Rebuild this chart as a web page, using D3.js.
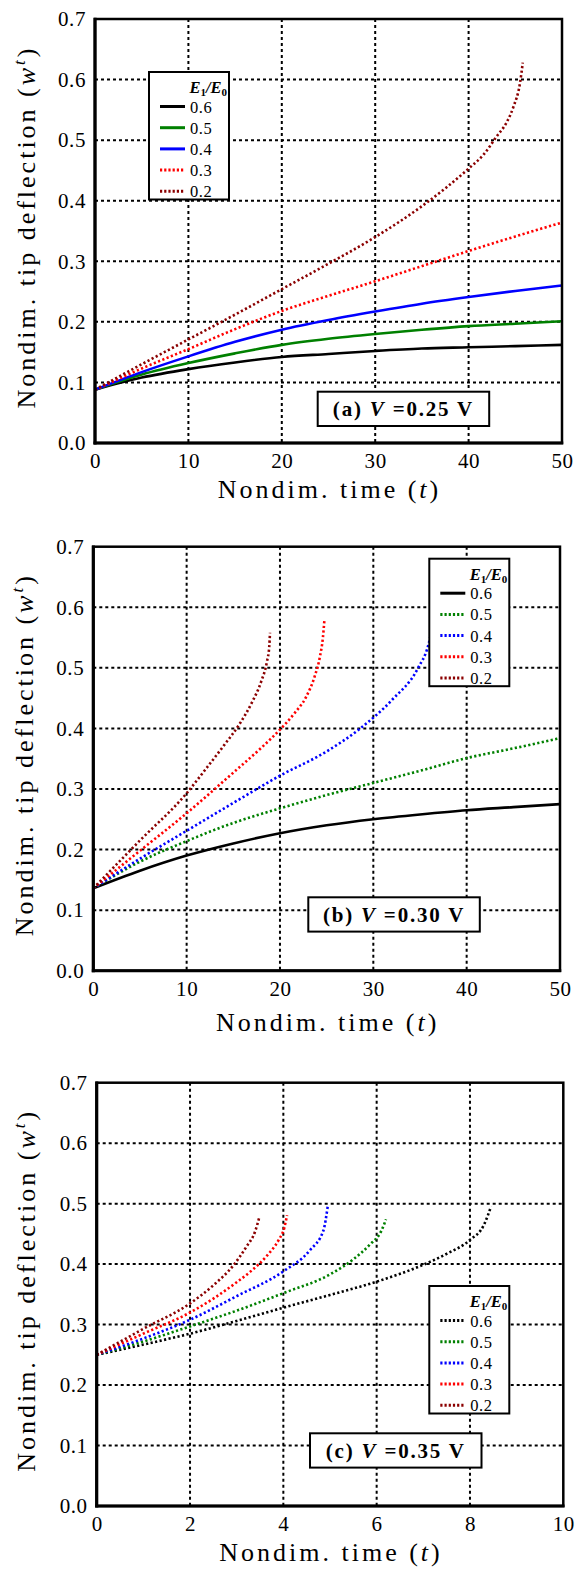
<!DOCTYPE html>
<html>
<head>
<meta charset="utf-8">
<script src="https://cdn.jsdelivr.net/npm/d3@7"></script>
<style>
body{margin:0;background:#fff;}
svg text{font-family:"Liberation Serif","Times New Roman",Tinos,"DejaVu Serif",serif;fill:#000;}
.tick text{font-size:21px;letter-spacing:0.6px;}
.gridLine{stroke:#000;stroke-width:2;stroke-dasharray:3,3;}
.frame{fill:none;stroke:#000;stroke-width:2.5;}
.axisTitle{font-size:26px;letter-spacing:3px;}
.legendText{font-size:16.5px;letter-spacing:0.5px;}
.legendTitle{font-size:16.5px;font-weight:bold;font-style:italic;}
.boxText{font-size:21px;font-weight:bold;letter-spacing:1.8px;}
</style>
</head>
<body>
<script>
(function(){

//legend categories (E1/E0)
var ratios = ["0.6", "0.5", "0.4", "0.3", "0.2"];
//tick values
var yTicks = [0, 0.1, 0.2, 0.3, 0.4, 0.5, 0.6, 0.7];
var xTicksAB = [0, 10, 20, 30, 40, 50];
var xTicksC = [0, 2, 4, 6, 8, 10];
//panel tags and speeds
var panelTags = ["(a)", "(b)", "(c)"];
var speeds = ["0.25", "0.30", "0.35"];

//panel (a) V = 0.25 V : [time, tip deflection]
var a06 = [[0,.088],[5,.108],[10,.122],[15,.133],[20,.142],[25,.147],[30,.152],[35,.156],[40,.158],[45,.160],[50,.162]];
var a05 = [[0,.088],[5,.113],[10,.132],[15,.148],[20,.162],[25,.172],[30,.180],[35,.187],[40,.193],[45,.197],[50,.201]];
var a04 = [[0,.088],[5,.117],[10,.143],[15,.167],[20,.187],[25,.203],[30,.217],[35,.230],[40,.241],[45,.251],[50,.260]];
var a03 = [[0,.088],[5,.123],[10,.155],[15,.188],[20,.218],[25,.243],[30,.267],[35,.292],[40,.317],[45,.341],[50,.364]];
var a02 = [[0,.088],[5,.130],[10,.171],[15,.212],[20,.254],[25,.296],[30,.340],[35,.391],[40,.453],[41.6,.476],[43,.506],[44.1,.530],[44.8,.555],[45.5,.594],[45.8,.628]];

//panel (b) V = 0.30 V
var b06 = [[0,.136],[5,.165],[10,.190],[15,.210],[20,.227],[25,.240],[30,.250],[35,.258],[40,.265],[45,.270],[50,.275]];
var b05 = [[0,.136],[5,.180],[10,.214],[15,.244],[20,.268],[25,.290],[30,.310],[35,.330],[40,.351],[45,.367],[50,.384]];
var b04 = [[0,.136],[5,.185],[10,.231],[15,.277],[20,.322],[25,.362],[28.6,.400],[32,.447],[34.8,.500],[35.9,.538],[36.3,.565]];
var b03 = [[0,.136],[5,.198],[10,.260],[15,.327],[18,.368],[20,.398],[21.5,.424],[22.8,.452],[23.7,.485],[24.3,.520],[24.6,.550],[24.75,.577]];
var b02 = [[0,.136],[5,.215],[10,.293],[12,.332],[14,.372],[15.7,.408],[17,.443],[18,.478],[18.6,.510],[18.85,.535],[18.93,.558]];

//panel (c) V = 0.35 V
var c06 = [[0,.25],[1,.267],[2,.285],[3,.306],[4,.328],[5,.349],[6,.371],[7,.399],[7.5,.417],[8,.440],[8.3,.465],[8.45,.495]];
var c05 = [[0,.25],[1,.272],[2,.297],[3,.323],[4,.352],[5,.383],[5.5,.408],[5.85,.432],[6.1,.455],[6.2,.474]];
var c04 = [[0,.25],[1,.277],[2,.308],[3,.347],[4,.388],[4.57,.423],[4.86,.456],[4.95,.495]];
var c03 = [[0,.25],[1,.285],[2,.320],[2.5,.343],[3,.370],[3.3,.388],[3.65,.414],[3.9,.440],[4.02,.460],[4.08,.481]];
var c02 = [[0,.25],[1,.293],[2,.335],[2.5,.365],[2.93,.398],[3.21,.429],[3.4,.455],[3.48,.476]];

//line colours, one per ratio
var lineColors = ["#000000", "#008000", "#0000ff", "#ff0000", "#8b0000"];

var panels = [
    {left:95, top:19, right:562, bottom:443, xMax:50, xTicks:xTicksAB,
     series:[a06,a05,a04,a03,a02], dotted:[false,false,false,true,true],
     legend:{x:149, y:72}, box:{x:317.7, y:391.7}, titleY:498, yTitleX:35},
    {left:93.3, top:546.7, right:560, bottom:970.7, xMax:50, xTicks:xTicksAB,
     series:[b06,b05,b04,b03,b02], dotted:[false,true,true,true,true],
     legend:{x:429.3, y:558.7}, box:{x:308.3, y:897.3}, titleY:1031, yTitleX:33},
    {left:96.7, top:1082.7, right:563.3, bottom:1506, xMax:10, xTicks:xTicksC,
     series:[c06,c05,c04,c03,c02], dotted:[true,true,true,true,true],
     legend:{x:429.3, y:1286}, box:{x:310, y:1433.3}, titleY:1561, yTitleX:35}
];

var svg = d3.select("body")
    .append("svg")
    .attr("width", 584)
    .attr("height", 1574);

panels.forEach(function(cfg, i){
    drawPanel(cfg, i);
});

function drawPanel(cfg, idx){
    var x = d3.scaleLinear().domain([0, cfg.xMax]).range([cfg.left, cfg.right]);
    var y = d3.scaleLinear().domain([0, 0.7]).range([cfg.bottom, cfg.top]);
    var g = svg.append("g").attr("class", "panel");

    //dotted grid
    g.selectAll(".vgrid")
        .data(cfg.xTicks.slice(1, -1))
        .enter()
        .append("line")
        .attr("class", "gridLine")
        .attr("x1", function(d){ return x(d); })
        .attr("x2", function(d){ return x(d); })
        .attr("y1", cfg.top)
        .attr("y2", cfg.bottom);
    g.selectAll(".hgrid")
        .data(yTicks.slice(1, -1))
        .enter()
        .append("line")
        .attr("class", "gridLine")
        .attr("x1", cfg.left)
        .attr("x2", cfg.right)
        .attr("y1", function(d){ return y(d); })
        .attr("y2", function(d){ return y(d); });

    //axes
    var xAxis = d3.axisBottom(x).tickValues(cfg.xTicks).tickSize(0).tickPadding(10).tickFormat(d3.format("d"));
    var yAxis = d3.axisLeft(y).tickValues(yTicks).tickSize(0).tickPadding(9).tickFormat(d3.format(".1f"));
    var gx = g.append("g").attr("transform", "translate(0," + cfg.bottom + ")").call(xAxis);
    var gy = g.append("g").attr("transform", "translate(" + cfg.left + ",0)").call(yAxis);
    [gx, gy].forEach(function(a){
        a.select(".domain").remove();
        a.attr("font-family", null).attr("font-size", null);
    });

    //curves
    var line = d3.line()
        .x(function(d){ return x(d[0]); })
        .y(function(d){ return y(d[1]); })
        .curve(d3.curveMonotoneX);
    cfg.series.forEach(function(s, k){
        g.append("path")
            .datum(s)
            .attr("d", line)
            .attr("fill", "none")
            .attr("stroke", lineColors[k])
            .attr("stroke-width", 2.6)
            .attr("stroke-dasharray", cfg.dotted[k] ? "2.2,2.4" : null);
    });

    //frame
    g.append("rect")
        .attr("class", "frame")
        .attr("x", cfg.left)
        .attr("y", cfg.top)
        .attr("width", cfg.right - cfg.left)
        .attr("height", cfg.bottom - cfg.top);
    g.append("line")
        .attr("x1", cfg.left).attr("x2", cfg.left)
        .attr("y1", cfg.top - 1.25).attr("y2", cfg.bottom + 1.5)
        .attr("stroke", "#000").attr("stroke-width", 3.2);
    g.append("line")
        .attr("x1", cfg.left - 1.5).attr("x2", cfg.right + 1.25)
        .attr("y1", cfg.bottom).attr("y2", cfg.bottom)
        .attr("stroke", "#000").attr("stroke-width", 3);

    //legend
    var lg = g.append("g").attr("transform", "translate(" + cfg.legend.x + "," + cfg.legend.y + ")");
    lg.append("rect")
        .attr("width", 80).attr("height", 127.5)
        .attr("fill", "#fff").attr("stroke", "#000").attr("stroke-width", 2);
    var lt = lg.append("text").attr("class", "legendTitle")
        .attr("x", 78).attr("y", 21).attr("text-anchor", "end");
    lt.append("tspan").text("E");
    lt.append("tspan").attr("font-size", "11px").attr("font-style", "normal").attr("dy", 3).text("1");
    lt.append("tspan").attr("dy", -3).text("/E");
    lt.append("tspan").attr("font-size", "11px").attr("font-style", "normal").attr("dy", 3).text("0");
    ratios.forEach(function(r, k){
        var yy = 34.5 + k * 21.2;
        lg.append("line")
            .attr("x1", 11).attr("x2", 36)
            .attr("y1", yy).attr("y2", yy)
            .attr("stroke", lineColors[k])
            .attr("stroke-width", 3)
            .attr("stroke-dasharray", cfg.dotted[k] ? "2.2,2" : null);
        lg.append("text").attr("class", "legendText")
            .attr("x", 41).attr("y", yy + 6)
            .text(r);
    });

    //panel label box
    var bx = g.append("g").attr("transform", "translate(" + cfg.box.x + "," + cfg.box.y + ")");
    bx.append("rect")
        .attr("width", 171.5).attr("height", 34.3)
        .attr("fill", "#fff").attr("stroke", "#000").attr("stroke-width", 2);
    var bt = bx.append("text").attr("class", "boxText")
        .attr("x", 85.75).attr("y", 24.5).attr("text-anchor", "middle");
    bt.append("tspan").text(panelTags[idx] + " ");
    bt.append("tspan").attr("font-style", "italic").text("V");
    bt.append("tspan").text(" =" + speeds[idx] + " V");

    //axis titles
    var xt = g.append("text").attr("class", "axisTitle")
        .attr("x", (cfg.left + cfg.right) / 2 + 1)
        .attr("y", cfg.titleY)
        .attr("text-anchor", "middle");
    xt.append("tspan").text("Nondim. time (");
    xt.append("tspan").attr("font-style", "italic").text("t");
    xt.append("tspan").text(")");

    var yt = g.append("text").attr("class", "axisTitle")
        .attr("transform", "translate(" + cfg.yTitleX + "," + ((cfg.top + cfg.bottom) / 2 - 4) + ") rotate(-90)")
        .attr("text-anchor", "middle");
    yt.append("tspan").text("Nondim. tip deflection (");
    yt.append("tspan").attr("font-style", "italic").text("w");
    yt.append("tspan").attr("font-style", "italic").attr("font-size", "17px").attr("dy", -10).text("t");
    yt.append("tspan").attr("dy", 10).text(")");
}

})();
</script>
</body>
</html>
